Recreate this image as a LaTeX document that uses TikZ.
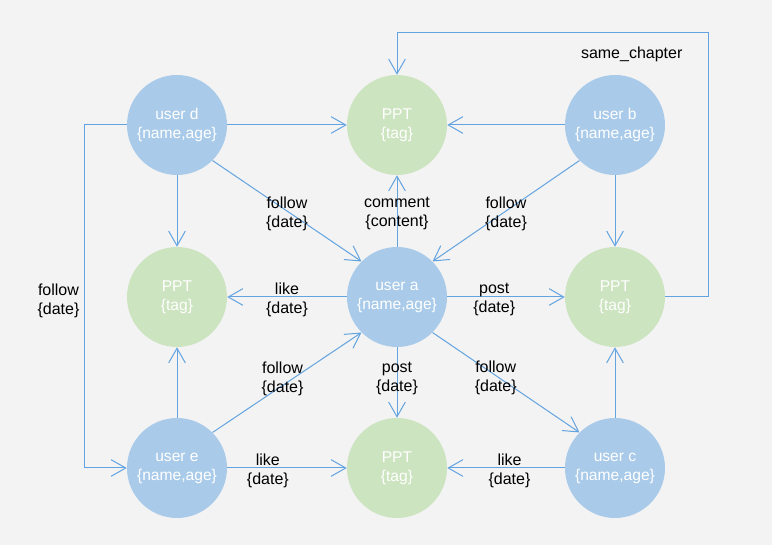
\documentclass[tikz,border=0pt]{standalone}
\usepackage{fontspec}
\setmainfont{Liberation Sans}
\usetikzlibrary{arrows.meta}
\definecolor{bgcol}{RGB}{243,243,243}
\definecolor{userblue}{RGB}{169,203,233}
\definecolor{pptgreen}{RGB}{205,228,192}
\definecolor{linkblue}{RGB}{98,163,224}

\begin{document}
\begin{tikzpicture}[x=0.75pt,y=-0.75pt,
  user/.style={circle,fill=userblue,minimum size=75pt,inner sep=0pt,text=white,align=center,font=\fontsize{11.7}{14.25}\selectfont},
  ppt/.style={user,fill=pptgreen},
  link/.style={draw=linkblue,line width=0.75pt,-{Straight Barb[length=11pt,width=12.5pt]}},
  lbl/.style={align=center,font=\fontsize{12}{14.25}\selectfont,inner sep=1pt,yshift=-2pt}]
  \fill[bgcol] (0,0) rectangle (772,545);

  % nodes
  \node[user] (userd) at (177,125) {user d\\\{name,age\}};
  \node[ppt]  (ppttop) at (397,125) {PPT\\\{tag\}};
  \node[user] (userb) at (615,125) {user b\\\{name,age\}};
  \node[ppt]  (pptleft) at (177,297) {PPT\\\{tag\}};
  \node[user] (usera) at (397,297) {user a\\\{name,age\}};
  \node[ppt]  (pptright) at (615,297) {PPT\\\{tag\}};
  \node[user] (usere) at (177,468) {user e\\\{name,age\}};
  \node[ppt]  (pptbottom) at (397,468) {PPT\\\{tag\}};
  \node[user] (userc) at (615,468) {user c\\\{name,age\}};

  \coordinate (chapturn) at (708,33);
  \coordinate (followturn) at (84,125);

  % edges
  \draw[link] (userd) -- (ppttop);
  \draw[link] (userb) -- (ppttop);
  \draw[link] (userd) -- (pptleft);
  \draw[link] (userb) -- (pptright);
  \draw[link] (userd.south east) -- node[lbl]{follow\\\{date\}} (usera.north west);
  \draw[link] (userb.south west) -- node[lbl]{follow\\\{date\}} (usera.north east);
  \draw[link] (usera) -- node[lbl]{comment\\\{content\}} (ppttop);
  \draw[link] (usera) -- node[lbl]{like\\\{date\}} (pptleft);
  \draw[link] (usera) -- node[lbl,pos=0.4]{post\\\{date\}} (pptright);
  \draw[link] (usera) -- node[lbl,pos=0.41]{post\\\{date\}} (pptbottom);
  \draw[link] (usera.south east) -- node[lbl,pos=0.43]{follow\\\{date\}} (userc.north west);
  \draw[link] (usere.north east) -- node[lbl,pos=0.47,yshift=7pt]{follow\\\{date\}} (usera.south west);
  \draw[link] (usere) -- (pptleft);
  \draw[link] (userc) -- (pptright);
  \draw[link] (usere) -- node[lbl,pos=0.34]{like\\\{date\}} (pptbottom);
  \draw[link] (userc) -- node[lbl,pos=0.47]{like\\\{date\}} (pptbottom);

  % routed edges
  \draw[link] (pptright.east) -| (chapturn) -| (ppttop.north);
  \draw[link] (userd.west) -- (followturn) |- (usere.west);
  \node[lbl,anchor=east] (chaplbl) at (684,52) {same\_chapter};
  \node[lbl,anchor=east] (followlbl) at (81,298) {follow\\\{date\}};
\end{tikzpicture}
\end{document}
